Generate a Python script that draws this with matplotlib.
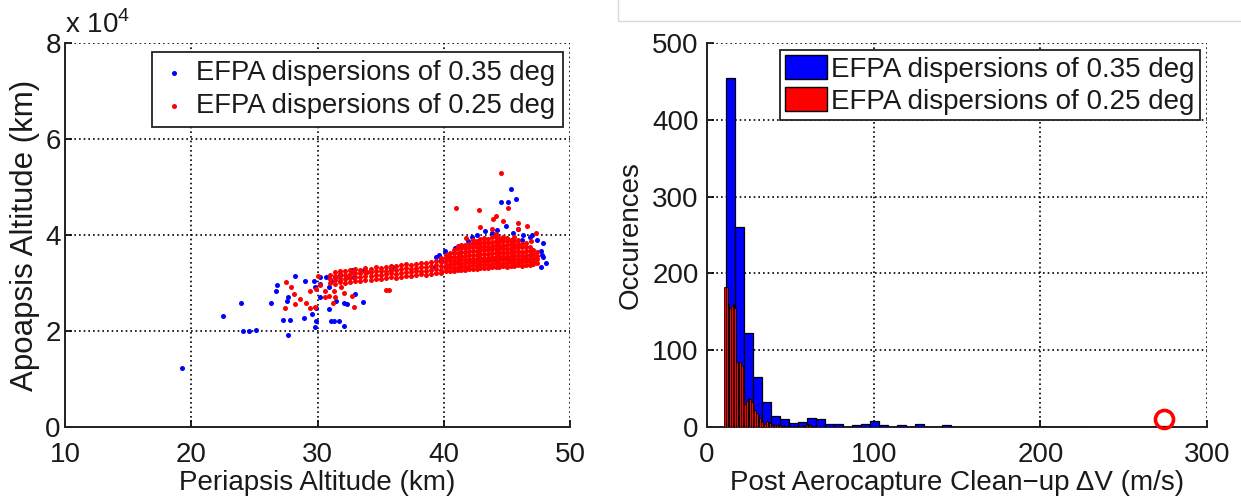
import matplotlib
matplotlib.use("Agg")
import matplotlib.pyplot as plt
import numpy as np
from matplotlib.lines import Line2D
from matplotlib.patches import Patch

plt.rcParams['font.family'] = ['Liberation Sans', 'DejaVu Sans']
plt.rcParams['mathtext.fontset'] = 'custom'
plt.rcParams['mathtext.rm'] = 'Liberation Sans'

# ---- left panel: periapsis (km) vs apoapsis (x 1e4 km) ----
# isolated points, EFPA 0.35 deg (blue)
blue_pts = [
    (19.3, 1.23), (22.5, 2.31), (23.9, 2.59), (24.1, 2.00), (24.6, 2.00),
    (25.1, 2.02), (26.3, 2.59), (26.7, 2.84), (26.8, 2.95), (27.7, 1.91),
    (27.3, 2.23), (27.8, 2.23), (28.2, 3.14), (27.6, 2.63), (27.7, 2.70),
    (28.9, 2.27), (29.0, 3.04), (29.7, 3.05), (29.8, 2.91), (29.9, 2.48),
    (29.6, 2.36), (29.9, 2.20), (29.8, 2.09), (30.2, 2.70), (30.2, 2.98),
    (30.7, 3.12), (30.9, 2.91), (31.1, 3.05), (30.9, 2.45), (31.1, 2.21),
    (31.3, 2.20), (31.7, 2.21), (31.5, 2.63), (32.1, 2.59), (32.3, 2.57),
    (32.1, 2.11), (32.9, 3.12), (33.6, 2.61), (33.0, 2.77), (31.4, 3.12),
    (31.8, 3.16), (30.2, 3.12), (32.7, 3.27), (33.7, 3.27), (35.9, 3.34),
    (39.3, 3.34), (39.4, 3.55), (40.1, 3.66), (40.9, 3.73), (41.9, 3.87),
    (43.3, 4.09), (43.8, 4.05), (44.6, 3.90), (46.2, 3.90), (47.4, 3.90),
    (47.9, 3.55), (48.1, 3.42), (47.7, 3.34), (47.8, 3.59), (47.7, 3.66),
    (47.9, 3.84), (47.0, 4.01), (46.3, 4.01), (45.9, 4.12), (44.9, 4.18),
    (41.4, 3.77), (40.3, 3.59), (39.6, 3.59), (39.8, 3.48), (35.8, 3.30),
    (44.8, 6.31), (45.3, 4.95), (45.7, 4.76), (44.5, 4.68), (45.1, 4.68),
    (42.2, 3.95), (42.6, 4.00), (44.2, 4.10), (46.8, 3.95), (45.5, 4.05),
]

# isolated points, EFPA 0.25 deg (red)
red_pts = [
    (27.5, 3.02), (27.9, 2.91), (28.1, 2.77), (28.6, 2.66), (28.2, 2.57),
    (27.4, 2.48), (29.1, 2.59), (29.4, 2.48), (29.8, 2.50), (30.0, 3.14),
    (30.2, 2.95), (30.6, 2.84), (30.6, 2.70), (30.9, 2.73), (31.3, 2.84),
    (31.4, 2.71), (32.1, 2.80), (31.8, 3.05), (32.3, 3.12), (32.7, 2.73),
    (32.9, 2.50), (31.9, 2.91), (29.9, 2.88), (29.4, 2.84), (31.2, 2.59),
    (35.4, 2.85), (35.7, 2.85), (32.9, 3.23), (33.9, 3.23), (44.5, 5.30),
    (45.1, 4.56), (41.0, 4.57), (42.8, 4.53), (43.9, 4.33), (41.8, 3.94),
    (41.1, 3.77), (45.9, 4.12), (46.6, 4.19), (47.3, 4.05), (46.9, 3.87),
    (42.9, 4.16), (43.8, 4.12), (44.7, 4.30), (45.9, 4.26), (44.1, 4.40),
]

# dense band of red points, read column by column: (periapsis, [apoapsis...])
red_band = [
    (31.0, [3.00, 3.08, 3.16]), (31.4, [2.98, 3.06, 3.14, 3.22]),
    (31.8, [3.02, 3.10, 3.18, 3.25]), (32.2, [3.00, 3.08, 3.16, 3.24]),
    (32.6, [3.03, 3.11, 3.19, 3.27]), (33.0, [3.05, 3.13, 3.21, 3.29]),
    (33.4, [3.04, 3.12, 3.20, 3.28]), (33.8, [3.07, 3.15, 3.23, 3.31]),
    (34.2, [3.06, 3.14, 3.22, 3.30]), (34.6, [3.09, 3.17, 3.25, 3.33]),
    (35.0, [3.08, 3.16, 3.24, 3.32]), (35.4, [3.10, 3.18, 3.26, 3.34]),
    (35.8, [3.12, 3.20, 3.28, 3.36]), (36.2, [3.11, 3.19, 3.27, 3.35]),
    (36.6, [3.13, 3.21, 3.29, 3.37]), (37.0, [3.15, 3.23, 3.31, 3.39]),
    (37.4, [3.14, 3.22, 3.30, 3.38]), (37.8, [3.16, 3.24, 3.32, 3.40]),
    (38.2, [3.18, 3.26, 3.34, 3.42]), (38.6, [3.17, 3.25, 3.33, 3.41]),
    (39.0, [3.19, 3.27, 3.35, 3.43]), (39.4, [3.21, 3.29, 3.37, 3.45]),
    (39.8, [3.20, 3.28, 3.36, 3.44, 3.52]),
    (40.2, [3.24, 3.31, 3.38, 3.45, 3.52, 3.58]), (40.5, [3.26, 3.33, 3.40, 3.47, 3.54, 3.62]),
    (40.8, [3.25, 3.32, 3.39, 3.46, 3.54, 3.62, 3.68]),
    (41.1, [3.27, 3.34, 3.41, 3.48, 3.55, 3.63, 3.72]),
    (41.4, [3.28, 3.35, 3.42, 3.49, 3.57, 3.65, 3.73, 3.80]),
    (41.7, [3.27, 3.34, 3.41, 3.48, 3.56, 3.64, 3.72, 3.79]),
    (42.0, [3.29, 3.36, 3.43, 3.50, 3.58, 3.66, 3.74, 3.82]),
    (42.3, [3.30, 3.37, 3.44, 3.51, 3.59, 3.67, 3.75, 3.83, 3.90]),
    (42.6, [3.29, 3.36, 3.43, 3.50, 3.58, 3.66, 3.74, 3.82, 3.88]),
    (42.9, [3.31, 3.38, 3.45, 3.52, 3.60, 3.68, 3.76, 3.84, 3.92]),
    (43.2, [3.32, 3.39, 3.46, 3.53, 3.61, 3.69, 3.77, 3.85, 3.94]),
    (43.5, [3.31, 3.38, 3.45, 3.52, 3.60, 3.68, 3.76, 3.84, 3.91]),
    (43.8, [3.33, 3.40, 3.47, 3.54, 3.62, 3.70, 3.78, 3.86, 3.95]),
    (44.1, [3.34, 3.41, 3.48, 3.55, 3.63, 3.71, 3.79, 3.87, 3.95, 4.02]),
    (44.4, [3.33, 3.40, 3.47, 3.54, 3.62, 3.70, 3.78, 3.86, 3.93]),
    (44.7, [3.35, 3.42, 3.49, 3.56, 3.64, 3.72, 3.80, 3.88, 3.96]),
    (45.0, [3.34, 3.41, 3.48, 3.55, 3.63, 3.71, 3.79, 3.87, 3.94]),
    (45.3, [3.36, 3.43, 3.50, 3.57, 3.65, 3.73, 3.81, 3.89]),
    (45.6, [3.35, 3.42, 3.49, 3.56, 3.64, 3.72, 3.80, 3.88, 3.96]),
    (45.9, [3.37, 3.44, 3.51, 3.58, 3.66, 3.74, 3.82, 3.90]),
    (46.2, [3.36, 3.43, 3.50, 3.57, 3.65, 3.74, 3.82]),
    (46.5, [3.38, 3.45, 3.52, 3.59, 3.67, 3.76, 3.84]),
    (46.8, [3.37, 3.44, 3.51, 3.58, 3.66, 3.75]),
    (47.1, [3.39, 3.46, 3.53, 3.61, 3.69]),
    (47.4, [3.41, 3.49, 3.57, 3.64]),
]

# ---- right panel: histogram of clean-up dV (m/s) ----
blue_range = (11.5, 281.5)          # 50 bins
blue_counts = [455, 261, 122, 65, 33, 14, 10, 5, 6, 12,
               10, 4, 4, 0, 2, 4, 8, 2, 0, 2,
               0, 4, 0, 0, 2, 0, 0, 0, 0, 0,
               0, 0, 0, 0, 0, 0, 0, 0, 0, 0,
               0, 0, 0, 0, 0, 0, 0, 0, 1, 0]
red_range = (10.5, 65.5)            # 55 bins
red_counts = [182, 182, 160, 155, 158, 160, 155, 84, 82, 84,
              80, 45, 30, 34, 38, 36, 33, 28, 22, 18,
              15, 12, 6, 5, 4, 8, 7, 5, 3, 4,
              3, 2, 3, 2, 1, 2, 1, 0, 2, 1,
              0, 1, 1, 0, 1, 0, 1, 2, 1, 3,
              4, 2, 1, 0, 1]
circle_mark = (274, 10)

label_035 = 'EFPA dispersions of 0.35 deg'
label_025 = 'EFPA dispersions of 0.25 deg'

FS = 20
TXT = '#1a1a1a'
grid_kw = dict(color='black', linestyle=(0, (1, 1.8)), linewidth=1.2)

fig = plt.figure(figsize=(12.41, 4.98), dpi=100)
ax1 = fig.add_axes([0.0524, 0.1426, 0.4069, 0.771])
ax2 = fig.add_axes([0.5697, 0.1426, 0.4029, 0.771])


def style_axes(ax):
    for s in ('top', 'right'):
        ax.spines[s].set_visible(False)
    for s in ('left', 'bottom'):
        ax.spines[s].set_linewidth(1.4)
        ax.spines[s].set_color('#222222')
    ax.grid(True, **grid_kw)
    ax.set_axisbelow(True)
    ax.tick_params(direction='in', length=5, width=1.2, labelsize=FS, labelcolor=TXT)
    ax.tick_params(axis='x', pad=11)
    ax.tick_params(axis='y', pad=3)


# left scatter
bx = [p[0] for p in blue_pts]
by = [p[1] for p in blue_pts]
rx = [p[0] for p in red_pts]
ry = [p[1] for p in red_pts]
for peri, apos in red_band:
    rx += [peri] * len(apos)
    ry += apos

ax1.scatter(bx, by, s=13, color='#0000ff', linewidths=0, label=label_035, zorder=3)
ax1.scatter(rx, ry, s=13, color='#ff0000', linewidths=0, label=label_025, zorder=4)
ax1.set_xlim(10, 50)
ax1.set_ylim(0, 8)
ax1.set_xticks([10, 20, 30, 40, 50])
ax1.set_yticks([0, 2, 4, 6, 8])
style_axes(ax1)
ax1.set_xlabel('Periapsis Altitude (km)', fontsize=FS, color=TXT, labelpad=1)
ax1.set_ylabel('Apoapsis Altitude (km)', fontsize=22.5, color=TXT, labelpad=4)
ax1.text(0.0, 1.01, r'x 10$^4$', transform=ax1.transAxes, ha='left', va='bottom',
         fontsize=FS, color=TXT)
leg1 = ax1.legend(loc='upper right', bbox_to_anchor=(0.986, 0.977), fontsize=19.7,
                  frameon=True, fancybox=False, edgecolor='#222222', framealpha=1,
                  handlelength=1.0, handletextpad=0.3, borderpad=0.3,
                  labelspacing=0.25, markerscale=1.0, borderaxespad=0)
leg1.get_frame().set_linewidth(1.3)
for t in leg1.get_texts():
    t.set_color(TXT)

# right histogram
b_edges = np.linspace(blue_range[0], blue_range[1], len(blue_counts) + 1)
r_edges = np.linspace(red_range[0], red_range[1], len(red_counts) + 1)
ax2.bar(b_edges[:-1], blue_counts, width=np.diff(b_edges), align='edge',
        color='#0000ff', edgecolor='black', linewidth=0.9, zorder=3)
ax2.bar(r_edges[:-1], red_counts, width=np.diff(r_edges), align='edge',
        color='#ff0000', edgecolor='black', linewidth=0.6, zorder=4)
ax2.plot(*circle_mark, 'o', mfc='none', mec='#ff0000', ms=13, mew=2.6, zorder=6,
         clip_on=False)
ax2.set_xlim(0, 300)
ax2.set_ylim(0, 500)
ax2.set_xticks([0, 100, 200, 300])
ax2.set_yticks([0, 100, 200, 300, 400, 500])
style_axes(ax2)
ax2.tick_params(axis='y', pad=6)
ax2.set_xlabel('Post Aerocapture Clean\u2212up \u0394V (m/s)', fontsize=FS, color=TXT,
               labelpad=1)
ax2.set_ylabel('Occurences', fontsize=FS, color=TXT, labelpad=6)
handles = [Patch(facecolor='#0000ff', edgecolor='black', linewidth=1.0),
           Patch(facecolor='#ff0000', edgecolor='black', linewidth=1.0)]
leg2 = ax2.legend(handles, [label_035, label_025], loc='upper right',
                  bbox_to_anchor=(0.986, 0.982), fontsize=FS, frameon=True,
                  fancybox=False, edgecolor='#222222', framealpha=1,
                  handlelength=1.5, handleheight=0.95, handletextpad=0.15,
                  borderpad=0.2, labelspacing=0.15, borderaxespad=0)
leg2.get_frame().set_linewidth(1.3)
for t in leg2.get_texts():
    t.set_color(TXT)

# light frame left over at the top right of the page
fig.add_artist(Line2D([618 / 1241, 618 / 1241, 1.0], [1.0, 1 - 21 / 498, 1 - 21 / 498],
                      transform=fig.transFigure, color='#dadada', linewidth=1.0))

fig.savefig('out.png', dpi=100)
